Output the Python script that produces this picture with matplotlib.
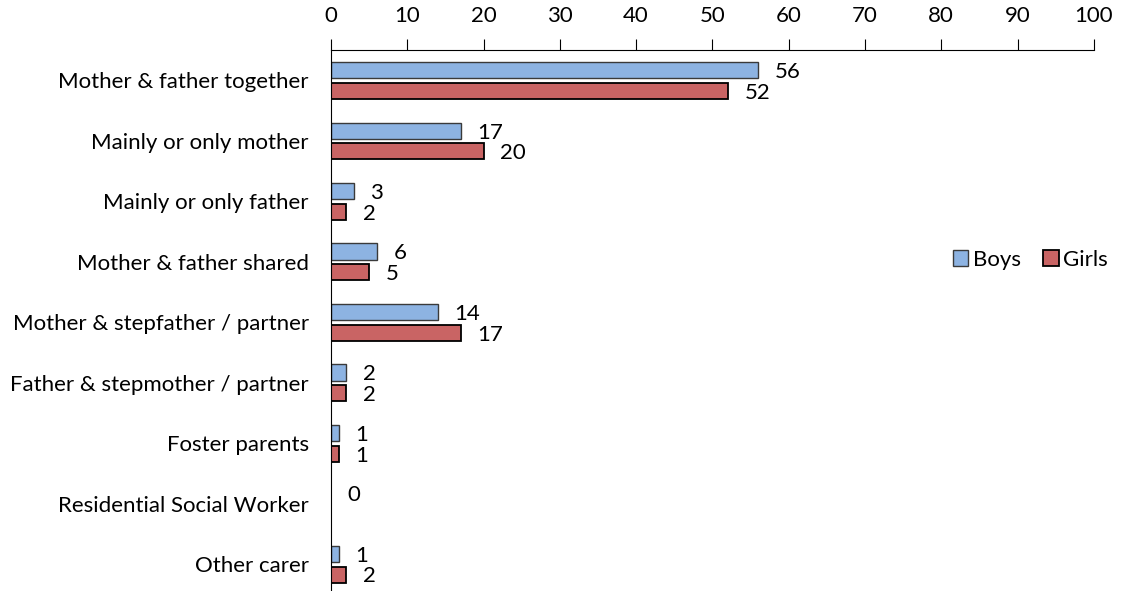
import numpy as np
import matplotlib.pyplot as plt
from matplotlib.patches import Patch

categories = ['Mother & father together', 'Mainly or only mother', 'Mainly or only father',
              'Mother & father shared', 'Mother & stepfather / partner',
              'Father & stepmother / partner', 'Foster parents',
              'Residential Social Worker', 'Other carer']
boys = [56, 17, 3, 6, 14, 2, 1, 0, 1]
girls = [52, 20, 2, 5, 17, 2, 1, 0, 2]

plt.rcParams['font.family'] = ['Lato', 'DejaVu Sans']

fig = plt.figure(figsize=(11.23, 5.91), dpi=100)
ax = fig.add_axes([0.2947, 0.0, 0.974 - 0.2947, 0.9154])

y = np.arange(len(categories))
h = 0.27
off = 0.17

for i in range(len(categories)):
    if boys[i] > 0:
        ax.barh(y[i] - off, boys[i], height=h, color='#8DB3E2', edgecolor='#3a3a3a', linewidth=1)
    if girls[i] > 0:
        ax.barh(y[i] + off, girls[i], height=h, color='#C96464', edgecolor='black', linewidth=1.3)

# value labels (the zero row only shows one label)
for i in range(len(categories)):
    ax.annotate(str(boys[i]), (boys[i], y[i] - off + 0.03), xytext=(12, 0), textcoords='offset points',
                va='center', ha='left', fontsize=16)
    if girls[i] > 0:
        ax.annotate(str(girls[i]), (girls[i], y[i] + off + 0.03), xytext=(12, 0), textcoords='offset points',
                    va='center', ha='left', fontsize=16)

ax.set_xlim(0, 100)
ax.set_ylim(8.44, -0.504)
ax.set_xticks(range(0, 101, 10))
ax.set_yticks(y)
ax.set_yticklabels(categories)
ax.xaxis.tick_top()
ax.tick_params(axis='x', direction='out', length=8, labelsize=16, pad=9)
ax.tick_params(axis='y', length=0, labelsize=16, pad=16)
for s in ['right', 'bottom']:
    ax.spines[s].set_visible(False)

handles = [Patch(facecolor='#8DB3E2', edgecolor='#3a3a3a', label='Boys'),
           Patch(facecolor='#C96464', edgecolor='black', linewidth=1.3, label='Girls')]
ax.legend(handles=handles, loc='center left', bbox_to_anchor=(0.789, 0.612), ncol=2, frameon=False,
          fontsize=16, handlelength=0.7, handleheight=0.7, handletextpad=0.2, columnspacing=1.0)

fig.savefig('out.png', dpi=100)
